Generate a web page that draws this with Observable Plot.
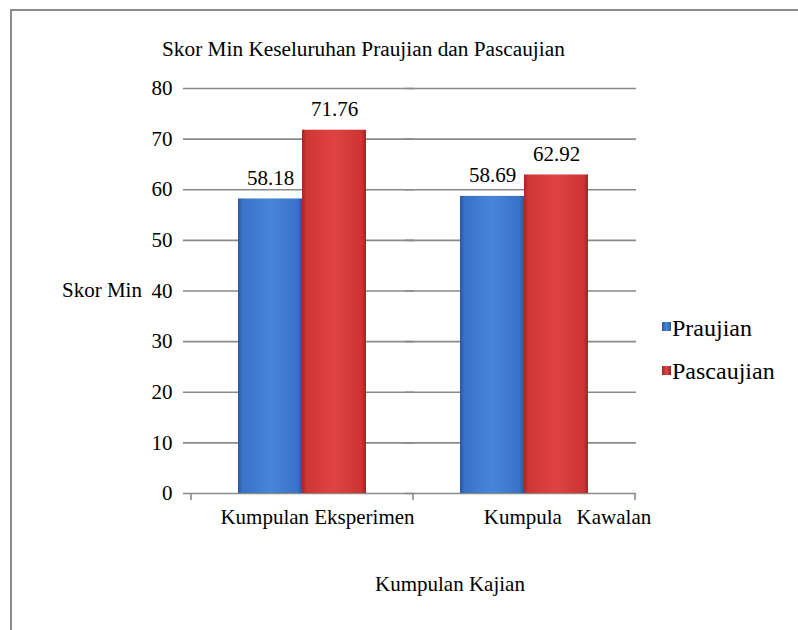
<!DOCTYPE html>
<html><head><meta charset="utf-8">
<script src="https://cdn.jsdelivr.net/npm/d3@7"></script>
<script src="https://cdn.jsdelivr.net/npm/@observablehq/plot@0.6"></script>
<style>
html,body{margin:0;padding:0;background:#fff;}
#wrap{position:relative;width:798px;height:630px;overflow:hidden;font-family:"Liberation Serif","Times New Roman",serif;color:#000;background:#fff;}
#frame{position:absolute;left:10px;top:9px;width:900px;height:700px;border-left:2px solid #8c8c8c;border-top:2px solid #8c8c8c;}
#chart{position:absolute;left:0;top:0;}
#chart svg, #chart svg text{font-family:"Liberation Serif","Times New Roman",serif !important;}
.t{position:absolute;font-size:21px;line-height:21px;white-space:nowrap;}
.lt{position:absolute;font-size:24px;line-height:24px;white-space:nowrap;}
.sw{position:absolute;width:9px;height:9px;}
</style></head><body>
<svg width="0" height="0" style="position:absolute">
  <defs>
    <linearGradient id="gBlue" x1="0" x2="1" y1="0" y2="0">
      <stop offset="0" stop-color="#2a58a0"/>
      <stop offset="0.07" stop-color="#3a72c6"/>
      <stop offset="0.5" stop-color="#4786da"/>
      <stop offset="0.93" stop-color="#3a72c6"/>
      <stop offset="1" stop-color="#2a58a0"/>
    </linearGradient>
    <linearGradient id="gRed" x1="0" x2="1" y1="0" y2="0">
      <stop offset="0" stop-color="#a82626"/>
      <stop offset="0.07" stop-color="#d03636"/>
      <stop offset="0.5" stop-color="#df4242"/>
      <stop offset="0.93" stop-color="#cc3434"/>
      <stop offset="1" stop-color="#a02424"/>
    </linearGradient>
  </defs>
</svg>
<div id="wrap">
  <div id="frame"></div>
  <div id="chart"></div>
  <div class="t" id="title" style="left:162px;top:39px;font-size:21.3px;">Skor Min Keseluruhan Praujian dan Pascaujian</div>
  <div class="t" id="ylab" style="left:62px;top:280px;">Skor Min</div>
  <div class="t" id="xlab" style="left:375px;top:574px;">Kumpulan Kajian</div>
  <div id="legend"></div>
</div>
<script>
// ---- data ----
const groups = ["Kumpulan Eksperimen", "Kumpulan Kawalan"];
const groupLabels = ["Kumpulan Eksperimen", "Kumpula\u2002\u2009Kawalan"];
const series = ["Praujian", "Pascaujian"];
const praujian = [58.18, 58.69];
const pascaujian = [71.76, 62.92];
const yTicks = [0, 10, 20, 30, 40, 50, 60, 70, 80];

const rows = [];
groups.forEach((g, i) => {
  rows.push({group: g, series: series[0], value: praujian[i]});
  rows.push({group: g, series: series[1], value: pascaujian[i]});
});
const labelRows = groups.map((g, i) => ({group: g, label: groupLabels[i]}));

const serif = "Liberation Serif, Times New Roman, serif";

const plot = Plot.plot({
  width: 798,
  height: 630,
  marginLeft: 191,
  marginRight: 163,
  marginTop: 88,
  marginBottom: 137,
  style: {fontFamily: serif, fontSize: "21px", color: "#000", background: "transparent", overflow: "visible"},
  fx: {domain: groups, padding: 0, axis: null, label: null},
  x: {domain: series, paddingInner: 0, paddingOuter: 0.734, axis: null},
  y: {domain: [0, 80], ticks: yTicks, tickSize: 0, tickPadding: 19, label: null, tickFormat: d => String(d)},
  color: {domain: series, range: ["url(#gBlue)", "url(#gRed)"]},
  marks: [
    Plot.ruleY(yTicks, {stroke: "#8a8a8a", strokeWidth: 1.6, insetLeft: -8, insetRight: -1}),
    Plot.barY(rows, {fx: "group", x: "series", y: "value", fill: "series"}),
    Plot.text(rows, {fx: "group", x: "series", y: "value", text: d => d.value.toFixed(2), lineAnchor: "bottom", dy: -14, fill: "#000", fontFamily: serif}),
    Plot.text(labelRows.slice(0, 1), {fx: "group", text: "label", frameAnchor: "bottom", dy: 30, dx: 15, fill: "#000", fontFamily: serif}),
    Plot.text(labelRows.slice(1), {fx: "group", text: "label", frameAnchor: "bottom", dy: 30, dx: 43, fill: "#000", fontFamily: serif})
  ]
});
document.getElementById("chart").appendChild(plot);

// facet boundary tick marks on the category axis, from the library's scales
const fxS = plot.scale("fx");
const yS = plot.scale("y");
const r0 = fxS.range[0], r1 = fxS.range[1];
const n = fxS.domain.length;
const bounds = d3.range(n + 1).map(i => r0 + i * (r1 - r0) / n);
const y0 = yS.apply ? yS.apply(0) : yS.range[0];
d3.select(plot).append("g")
  .attr("stroke", "#8a8a8a").attr("stroke-width", 1.6)
  .selectAll("line").data(bounds).join("line")
  .attr("x1", d => d).attr("x2", d => d)
  .attr("y1", y0).attr("y2", y0 + 7);

// legend
const legend = d3.select("#legend");
const swatchBg = ["linear-gradient(90deg,#2a58a0,#4786da 50%,#2a58a0)", "linear-gradient(90deg,#a82626,#df4242 50%,#a02424)"];
series.forEach((s, i) => {
  legend.append("div").attr("class", "sw")
    .style("left", "662px").style("top", (322 + i * 44) + "px")
    .style("background", swatchBg[i]);
  legend.append("div").attr("class", "lt")
    .style("left", "672px").style("top", (316 + i * 43) + "px")
    .text(s);
});
</script>
</body></html>
